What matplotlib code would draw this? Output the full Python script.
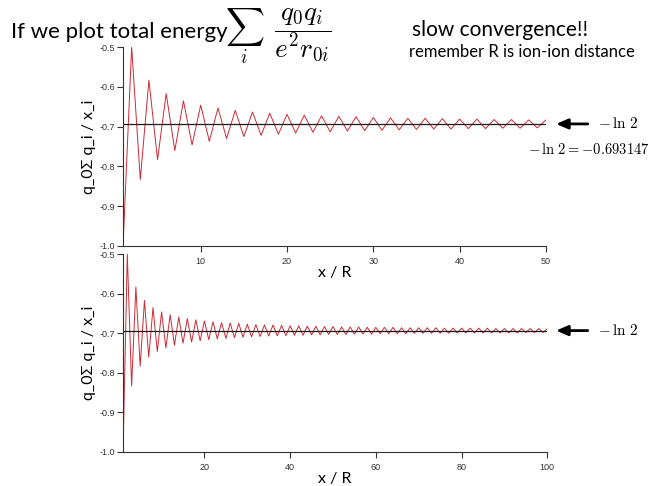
import matplotlib
matplotlib.use("Agg")
import matplotlib.pyplot as plt

plt.rcParams['axes.unicode_minus'] = False
plt.rcParams['mathtext.fontset'] = 'cm'

# partial sums, n = 1..100
n_terms = list(range(1, 101))
partial_sums = [
    -1.000, -0.500, -0.833, -0.583, -0.783, -0.617, -0.760, -0.635, -0.746, -0.646,
    -0.737, -0.653, -0.730, -0.659, -0.725, -0.663, -0.722, -0.666, -0.719, -0.669,
    -0.716, -0.671, -0.714, -0.673, -0.713, -0.674, -0.711, -0.675, -0.710, -0.677,
    -0.709, -0.678, -0.708, -0.679, -0.707, -0.679, -0.706, -0.680, -0.706, -0.681,
    -0.705, -0.681, -0.705, -0.682, -0.704, -0.682, -0.704, -0.683, -0.703, -0.683,
    -0.703, -0.684, -0.703, -0.684, -0.702, -0.684, -0.702, -0.685, -0.702, -0.685,
    -0.701, -0.685, -0.701, -0.685, -0.701, -0.686, -0.701, -0.686, -0.700, -0.686,
    -0.700, -0.686, -0.700, -0.686, -0.700, -0.687, -0.700, -0.687, -0.699, -0.687,
    -0.699, -0.687, -0.699, -0.687, -0.699, -0.687, -0.699, -0.688, -0.699, -0.688,
    -0.699, -0.688, -0.699, -0.688, -0.698, -0.688, -0.698, -0.688, -0.698, -0.688,
]
limit = -0.693147
yticks = [-1.0, -0.9, -0.8, -0.7, -0.6, -0.5]
top_xticks = [10, 20, 30, 40, 50]
bottom_xticks = [20, 40, 60, 80, 100]

fig = plt.figure(figsize=(6.65, 4.86), dpi=100)
ax1 = fig.add_axes([0.185, 0.494, 0.636, 0.409])
ax2 = fig.add_axes([0.185, 0.070, 0.638, 0.407])
ax2.patch.set_alpha(0)

def style(ax, n, xticks):
    ax.plot(n_terms[:n], partial_sums[:n], color='#cc2a36', lw=0.7)
    ax.axhline(limit, color='#1a1a1a', lw=0.9)
    ax.set_xlim(1, n)
    ax.set_ylim(-1.0, -0.5)
    ax.set_xticks(xticks)
    ax.set_yticks(yticks)
    ax.set_yticklabels(['%.1f' % v for v in yticks])
    ax.spines['top'].set_visible(False)
    ax.spines['right'].set_visible(False)
    for s in ('left', 'bottom'):
        ax.spines[s].set_color('#333333')
        ax.spines[s].set_linewidth(0.8)
    ax.tick_params(direction='out', length=4, width=0.8, labelsize=6.5,
                   colors='#333333')
    ax.tick_params(axis='x', pad=4)
    ax.tick_params(axis='y', pad=1.5)
    for lab in ax.get_xticklabels() + ax.get_yticklabels():
        lab.set_family('Liberation Sans')
    ax.set_xlabel('x / R', fontsize=11.5, family='Lato', labelpad=0)
    ax.set_ylabel('q_0Σ q_i / x_i', fontsize=11.5, family='Lato', labelpad=3)

style(ax1, 50, top_xticks)
style(ax2, 100, bottom_xticks)

# arrows pointing at the limit
for ax in (ax1, ax2):
    ax.annotate('', xy=(0.832, limit), xytext=(0.888, limit),
                xycoords=('figure fraction', 'data'),
                textcoords=('figure fraction', 'data'),
                annotation_clip=False,
                arrowprops=dict(arrowstyle='-|>,head_length=0.7,head_width=0.3',
                                color='black', lw=2))
    ax.annotate(r'$-\,\ln\,2$', xy=(0.899, limit),
                xycoords=('figure fraction', 'data'),
                annotation_clip=False, fontsize=11, va='center')
fig.text(0.794, 0.693, r'$-\,\ln\,2 = -0.693147$', fontsize=10.5, va='center')

fig.text(0.017, 0.922, 'If we plot total energy', fontsize=16, family='Lato', va='baseline')
fig.text(0.338, 0.925, r'$\sum_i\;\; \dfrac{q_0 q_i}{e^2 r_{0i}}$', fontsize=19.5, va='center')
fig.text(0.62, 0.926, 'slow convergence!!', fontsize=15, family='Lato', va='baseline')
fig.text(0.615, 0.883, 'remember R is ion-ion distance', fontsize=12, family='Lato', va='baseline')

fig.savefig('out.png', dpi=100)
